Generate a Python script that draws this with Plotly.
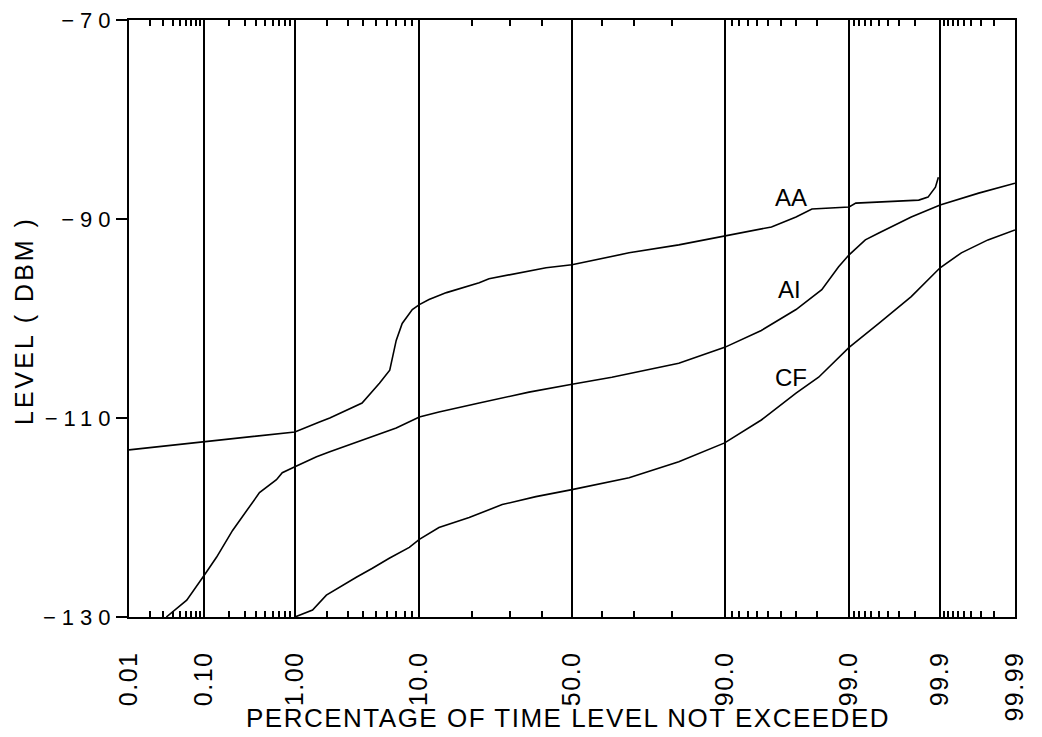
from statistics import NormalDist
import plotly.graph_objects as go

# ---------------- data (percent of time level not exceeded, level in dBm) ----------------
tick_pct = [0.01, 0.10, 1.00, 10.0, 50.0, 90.0, 99.0, 99.9, 99.99]
tick_text = ["0.01", "0.10", "1.00", "10.0", "50.0", "90.0", "99.0", "99.9", "99.99"]
minor_pct = ([0.02, 0.03, 0.04, 0.05, 0.06, 0.07, 0.08, 0.09]
             + [0.2, 0.3, 0.4, 0.5, 0.6, 0.7, 0.8, 0.9]
             + [2, 3, 4, 5, 6, 7, 8, 9]
             + [20, 30, 40, 60, 70, 80]
             + [91, 92, 93, 94, 95, 96, 97, 98]
             + [99.1, 99.2, 99.3, 99.4, 99.5, 99.6, 99.7, 99.8]
             + [99.91, 99.92, 99.93, 99.94, 99.95, 99.96, 99.97, 99.98])

y_major = [-130, -110, -90, -70]
y_major_text = ["−130", "−110", "−90", "−70"]
y_minor = [-130, -125, -120, -115, -110, -105, -100, -95, -90, -85, -80, -75, -70]

aa_pct = [0.01, 0.10, 1.0, 1.70, 2.1, 3.9, 5.3, 6.3, 7.0, 7.7, 9.0, 10, 11.5, 14.6,
          21.8, 24.3, 32.9, 41.4, 50, 58, 68.4, 81.5, 90, 95.3, 97.0, 97.8, 99.0,
          99.14, 99.82, 99.86, 99.886, 99.895]
aa_db = [-113.2, -112.4, -111.4, -110.4, -110.0, -108.5, -106.5, -105.2, -102.2,
         -100.5, -99.1, -98.6, -98.1, -97.4, -96.4, -96.0, -95.4, -94.9, -94.6,
         -94.1, -93.4, -92.6, -91.7, -90.8, -89.8, -89.0, -88.8, -88.4, -88.1,
         -87.8, -86.8, -85.8]

ai_pct = [0.033, 0.061, 0.105, 0.142, 0.219, 0.314, 0.435, 0.655, 0.75, 1.0, 1.6,
          2.1, 3.1, 3.9, 7.0, 10, 13.2, 21.8, 35.9, 50, 63.1, 81.5, 90, 94.4, 97.0,
          98.2, 98.74, 99.0, 99.31, 99.5, 99.78, 99.9, 99.968, 99.99]
ai_db = [-130.0, -128.3, -125.6, -124.0, -121.3, -119.4, -117.5, -116.2, -115.5,
         -114.9, -113.9, -113.4, -112.7, -112.2, -111.0, -109.9, -109.4, -108.5,
         -107.4, -106.6, -105.9, -104.5, -102.9, -101.2, -99.1, -97.1, -94.8, -93.6,
         -92.1, -91.4, -89.8, -88.6, -87.4, -86.4]

cf_pct = [1.0, 1.47, 1.96, 2.54, 3.51, 4.69, 6.25, 8.6, 10, 13.2, 19.4, 27.9, 38.1,
          50, 68.4, 81.5, 90, 94.4, 97.0, 98.08, 99.0, 99.5, 99.78, 99.9, 99.946,
          99.976, 99.99]
cf_db = [-130.0, -129.3, -127.8, -127.0, -126.0, -125.1, -124.1, -123.0, -122.2,
         -121.0, -120.0, -118.7, -117.9, -117.2, -116.0, -114.4, -112.5, -110.2,
         -107.5, -105.9, -102.9, -100.5, -97.8, -94.9, -93.4, -92.1, -91.1]

series_names = ["AA", "AI", "CF"]
label_pct = [96.7, 96.6, 96.7]
label_db = [-87.8, -97.1, -105.9]

x_title = "PERCENTAGE OF TIME LEVEL NOT EXCEEDED"
y_title = "LEVEL ( DBM )"

# ---------------- probability (normal) scale ----------------
nd = NormalDist()


def zq(p):
    return nd.inv_cdf(p / 100.0)


def spaced(s, px):
    # letter-spacing between characters only (no trailing gap after the last one)
    return '<span style="letter-spacing:%spx">%s</span>%s' % (px, s[:-1], s[-1])


FONT = "Liberation Sans, Arial, Helvetica, sans-serif"

# The page body has an 8px margin, so the figure sits at page (8, 8).
OFF = 8
W, H = 1042 - OFF, 737 - OFF
PL, PR, PT, PB = 129, 1015, 20, 617          # plot area in page pixels

fig = go.Figure()
for pct, db, name in [(aa_pct, aa_db, "AA"), (ai_pct, ai_db, "AI"), (cf_pct, cf_db, "CF")]:
    fig.add_trace(go.Scatter(x=[zq(p) for p in pct], y=db, mode="lines", name=name,
                             line=dict(color="black", width=1.6), showlegend=False))

for name, p, d in zip(series_names, label_pct, label_db):
    fig.add_annotation(x=zq(p), y=d, text=name, showarrow=False,
                       font=dict(family=FONT, size=24, color="black"))

pw, ph = PR - PL, PB - PT
fig.add_annotation(xref="paper", yref="paper", x=(567 - PL) / pw, y=-(718 - PB) / ph,
                   text=spaced(x_title, 1.5), showarrow=False,
                   xanchor="center", yanchor="middle",
                   font=dict(family=FONT, size=26, color="black"))
fig.add_annotation(xref="paper", yref="paper", x=-(PL - 24) / pw, y=(PB - 322) / ph,
                   text=spaced(y_title, 3), textangle=-90, showarrow=False,
                   xanchor="center", yanchor="middle",
                   font=dict(family=FONT, size=25, color="black"))

xr = [zq(tick_pct[0]), zq(tick_pct[-1])]
fig.update_layout(
    width=W, height=H,
    margin=dict(l=PL - OFF, r=W - (PR - OFF), t=PT - OFF, b=H - (PB - OFF), autoexpand=False),
    paper_bgcolor="white", plot_bgcolor="white",
    font=dict(family=FONT, color="black"),
    xaxis=dict(
        range=xr, tickmode="array", tickvals=[zq(p) for p in tick_pct],
        ticktext=[spaced(t, 1.5) for t in tick_text],
        tickangle=-90, ticks="", showgrid=True, gridcolor="black", gridwidth=1.6,
        showline=True, linecolor="black", linewidth=2, mirror="allticks",
        zeroline=False, tickfont=dict(family=FONT, size=25), ticklabelstandoff=24,
        automargin=False, ticklabeloverflow="allow",
        minor=dict(tickmode="array", tickvals=[zq(p) for p in minor_pct], ticks="inside",
                   ticklen=6, tickwidth=1.5, tickcolor="black", showgrid=False),
    ),
    yaxis=dict(
        range=[-130, -70], tickmode="array", tickvals=y_major,
        ticktext=[spaced(t, 6) for t in y_major_text],
        ticks="outside", ticklen=11, tickwidth=2, tickcolor="black",
        showgrid=False, zeroline=False, showline=True, linecolor="black", linewidth=2,
        mirror=True, tickfont=dict(family=FONT, size=22), ticklabelstandoff=1,
        automargin=False, ticklabeloverflow="allow",
    ),
    yaxis2=dict(
        range=[-130, -70], overlaying="y", side="left", tickmode="array",
        tickvals=y_minor, ticks="inside", ticklen=11, tickwidth=1.5, tickcolor="black",
        showticklabels=False, showgrid=False, zeroline=False, showline=False,
        automargin=False,
    ),
    yaxis3=dict(
        range=[-130, -70], overlaying="y", side="right", tickmode="array",
        tickvals=y_minor, ticks="inside", ticklen=8, tickwidth=1.5, tickcolor="black",
        showticklabels=False, showgrid=False, zeroline=False, showline=False,
        automargin=False,
    ),
)

fig.write_html("out.html")
